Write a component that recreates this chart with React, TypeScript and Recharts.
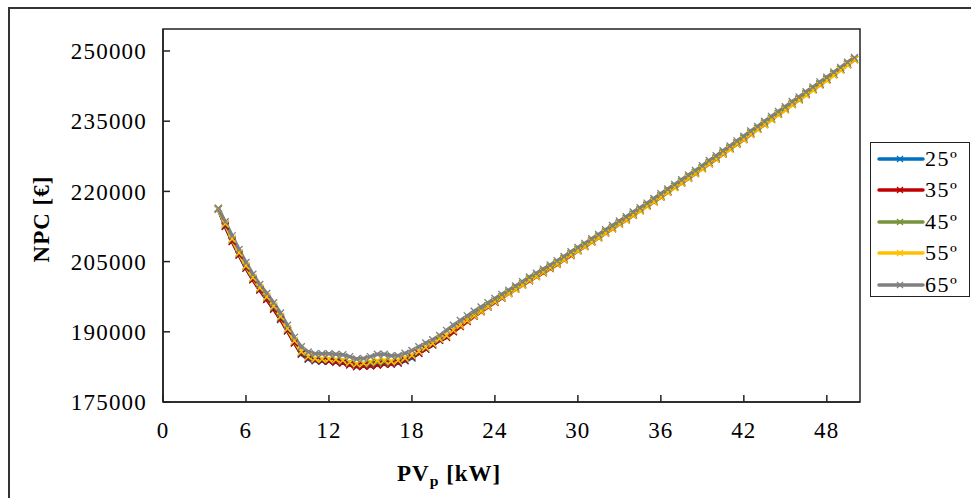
import { LineChart, Line, XAxis, YAxis, ReferenceArea } from 'recharts';

// PV peak power [kW], step 0.5
const pvPower = [
  4, 4.5, 5, 5.5, 6, 6.5, 7, 7.5, 8, 8.5, 9, 9.5, 10, 10.5, 11, 11.5, 12, 12.5, 13, 13.5,
  14, 14.5, 15, 15.5, 16, 16.5, 17, 17.5, 18, 18.5, 19, 19.5, 20, 20.5, 21, 21.5, 22, 22.5,
  23, 23.5, 24, 24.5, 25, 25.5, 26, 26.5, 27, 27.5, 28, 28.5, 29, 29.5, 30, 30.5, 31, 31.5,
  32, 32.5, 33, 33.5, 34, 34.5, 35, 35.5, 36, 36.5, 37, 37.5, 38, 38.5, 39, 39.5, 40, 40.5,
  41, 41.5, 42, 42.5, 43, 43.5, 44, 44.5, 45, 45.5, 46, 46.5, 47, 47.5, 48, 48.5, 49, 49.5, 50,
];

// NPC [€] per tilt angle
const npc25 = [
  216200, 212500, 209400, 206400, 203600, 201200, 199000, 197000, 195000, 192800, 190200, 187700,
  185200, 184100, 183800, 183700, 183700, 183600, 183400, 183100, 182600, 182700, 182900, 182900,
  183100, 183100, 183300, 183800, 184400, 185400, 186300, 187200, 188200, 188900, 190100, 191300,
  192400, 193500, 194500, 195500, 196400, 197400, 198300, 199200, 200100, 201100, 201900, 202800,
  203700, 204600, 205500, 206500, 207400, 208300, 209300, 210200, 211200, 212100, 213100, 214100,
  215000, 216000, 217000, 217900, 218900, 220000, 221000, 221900, 222900, 224000, 225000, 226000,
  227000, 228100, 229200, 230200, 231200, 232400, 233400, 234400, 235500, 236600, 237600, 238600,
  239700, 240800, 241800, 242900, 243900, 245000, 246100, 247100, 248200,
];
const npc35 = [
  216300, 212600, 209300, 206400, 203600, 201100, 198900, 196900, 194800, 192600, 190200, 187600,
  185300, 184300, 183900, 183800, 183700, 183500, 183300, 182900, 182600, 182700, 182700, 182900,
  183100, 183100, 183400, 183900, 184600, 185400, 186300, 187200, 188200, 188800, 190000, 191100,
  192200, 193300, 194300, 195300, 196300, 197200, 198200, 199100, 200000, 200900, 201800, 202600,
  203500, 204400, 205400, 206300, 207300, 208200, 209200, 210100, 211100, 212000, 213000, 213900,
  214900, 215900, 216900, 217800, 218800, 219800, 220900, 221800, 222800, 223800, 224900, 225900,
  226900, 228000, 229100, 230100, 231100, 232200, 233300, 234300, 235400, 236500, 237500, 238600,
  239600, 240700, 241800, 242800, 243900, 245000, 246000, 247100, 248200,
];
const npc45 = [
  216300, 213000, 209700, 206800, 204000, 201500, 199300, 197300, 195300, 193100, 190600, 188000,
  185600, 184600, 184200, 184100, 184100, 184000, 183900, 183500, 183100, 183200, 183400, 183500,
  183600, 183600, 183800, 184300, 184900, 185800, 186600, 187500, 188400, 189100, 190300, 191400,
  192500, 193600, 194600, 195600, 196600, 197500, 198500, 199400, 200300, 201300, 202100, 203000,
  203900, 204800, 205700, 206700, 207600, 208500, 209500, 210400, 211400, 212300, 213300, 214200,
  215200, 216100, 217100, 218100, 219100, 220100, 221100, 222100, 223100, 224100, 225100, 226200,
  227200, 228300, 229300, 230400, 231400, 232500, 233500, 234600, 235600, 236700, 237700, 238800,
  239800, 240900, 241900, 243000, 244000, 245100, 246100, 247200, 248300,
];
const npc55 = [
  216300, 213100, 209900, 206900, 204100, 201600, 199400, 197500, 195500, 193300, 190700, 188100,
  185800, 184700, 184300, 184200, 184200, 184100, 183900, 183500, 183200, 183300, 183600, 183800,
  183900, 183700, 183900, 184400, 185000, 185800, 186700, 187500, 188500, 189200, 190300, 191400,
  192400, 193400, 194400, 195400, 196400, 197300, 198200, 199100, 200000, 201000, 201800, 202700,
  203600, 204500, 205400, 206400, 207300, 208200, 209200, 210100, 211100, 212000, 213000, 213900,
  214900, 215800, 216800, 217800, 218800, 219800, 220800, 221800, 222800, 223800, 224800, 225900,
  226900, 228000, 229000, 230100, 231100, 232200, 233200, 234300, 235300, 236400, 237400, 238500,
  239500, 240600, 241600, 242700, 243700, 244800, 245900, 247000, 248100,
];
const npc65 = [
  216400, 213500, 210500, 207600, 204800, 202300, 200100, 198200, 196200, 194000, 191400, 188800,
  186800, 185700, 185300, 185300, 185300, 185200, 185100, 184700, 184200, 184300, 184700, 185200,
  185200, 184900, 184900, 185400, 186000, 186800, 187600, 188300, 189200, 190300, 191400, 192400,
  193400, 194400, 195300, 196200, 197100, 198000, 198900, 199800, 200700, 201700, 202500, 203400,
  204300, 205200, 206100, 207100, 208000, 208900, 209900, 210800, 211800, 212700, 213700, 214600,
  215600, 216500, 217500, 218500, 219500, 220500, 221500, 222500, 223500, 224500, 225500, 226600,
  227600, 228700, 229700, 230800, 231800, 232900, 233900, 235000, 236000, 237100, 238100, 239200,
  240200, 241300, 242300, 243400, 244400, 245500, 246500, 247600, 248600,
];

const xTicks = [0, 6, 12, 18, 24, 30, 36, 42, 48];
const yTicks = [175000, 190000, 205000, 220000, 235000, 250000];

const seriesKeys = ['s25', 's35', 's45', 's55', 's65'];
const seriesNames = ['25º', '35º', '45º', '55º', '65º'];
const seriesColors = ['#0070C0', '#C00000', '#77933C', '#FFC000', '#808080'];

const data = pvPower.map((x, i) => ({
  x,
  s25: npc25[i],
  s35: npc35[i],
  s45: npc45[i],
  s55: npc55[i],
  s65: npc65[i],
}));

const FONT = '"Liberation Serif", "Times New Roman", serif';

const crossDot = (color: string) => (props: any) => {
  const { cx, cy, index } = props;
  if (cx == null || cy == null) return <g key={`d-${index}`} />;
  const r = 3.5;
  return (
    <path
      key={`d-${index}`}
      d={`M${cx - r},${cy - r}L${cx + r},${cy + r}M${cx - r},${cy + r}L${cx + r},${cy - r}`}
      stroke={color}
      strokeWidth={1.3}
      fill="none"
    />
  );
};

function LegendBox() {
  return (
    <div
      style={{
        position: 'absolute',
        left: 870,
        top: 142,
        width: 100,
        height: 155,
        boxSizing: 'border-box',
        border: '1.5px solid #222',
        background: '#fff',
      }}
    >
      {seriesNames.map((name, i) => (
        <div key={name} style={{ display: 'flex', alignItems: 'center', height: 31.5 }}>
          <svg width={48} height={12} style={{ marginLeft: 6 }}>
            <line x1={2} y1={6} x2={46} y2={6} stroke={seriesColors[i]} strokeWidth={3.5} strokeLinecap="round" />
            <path d="M20,3L26,9M20,9L26,3" stroke={seriesColors[i]} strokeWidth={1.3} />
          </svg>
          <span style={{ fontFamily: FONT, fontSize: 22, letterSpacing: 1.5, color: '#000', lineHeight: 1 }}>
            {name}
          </span>
        </div>
      ))}
    </div>
  );
}

export default function App() {
  return (
    <div
      style={{
        position: 'fixed',
        left: 0,
        top: 0,
        width: 971,
        height: 498,
        overflow: 'hidden',
        background: '#fff',
      }}
    >
      <div
        style={{
          position: 'absolute',
          left: 8,
          top: 7,
          width: 1000,
          height: 600,
          border: '2px solid #333',
          boxSizing: 'border-box',
        }}
      />
      <div style={{ position: 'absolute', left: 0, top: 0 }}>
        <LineChart width={971} height={498} data={data} margin={{ top: 29, right: 111, bottom: 0, left: 13 }}>
          <XAxis
            type="number"
            dataKey="x"
            domain={[0, 50.4]}
            ticks={xTicks}
            allowDataOverflow
            height={96}
            tickSize={-7}
            tickMargin={27}
            axisLine={{ stroke: '#222', strokeWidth: 1.5 }}
            tickLine={{ stroke: '#222', strokeWidth: 1.5 }}
            tick={{ fill: '#000', fontSize: 23, fontFamily: FONT, letterSpacing: 1.2 }}
          />
          <YAxis
            type="number"
            domain={[175000, 254700]}
            ticks={yTicks}
            allowDataOverflow
            width={150}
            tickSize={-7}
            tickMargin={23}
            axisLine={{ stroke: '#222', strokeWidth: 1.5 }}
            tickLine={{ stroke: '#222', strokeWidth: 1.5 }}
            tick={{ fill: '#000', fontSize: 23, fontFamily: FONT, letterSpacing: 1.2 }}
          />
          <ReferenceArea x1={0} x2={50.4} y1={175000} y2={254700} fill="none" stroke="#222" strokeWidth={1.5} />
          {seriesKeys.map((k, i) => (
            <Line
              key={k}
              type="linear"
              dataKey={k}
              name={seriesNames[i]}
              stroke={seriesColors[i]}
              strokeWidth={3.5}
              dot={crossDot(seriesColors[i])}
              activeDot={false}
              isAnimationActive={false}
            />
          ))}
        </LineChart>
      </div>
      <LegendBox />
      <div
        style={{
          position: 'absolute',
          left: 42,
          top: 219,
          transform: 'translate(-50%, -50%) rotate(-90deg)',
          fontFamily: FONT,
          fontWeight: 'bold',
          fontSize: 23,
          letterSpacing: 1,
          whiteSpace: 'nowrap',
          color: '#000',
        }}
      >
        NPC [€]
      </div>
      <div
        style={{
          position: 'absolute',
          left: 397,
          top: 462,
          fontFamily: FONT,
          fontWeight: 'bold',
          fontSize: 23,
          letterSpacing: 1,
          whiteSpace: 'nowrap',
          color: '#000',
          lineHeight: 1,
        }}
      >
        PV<sub style={{ fontSize: '0.68em', verticalAlign: '-0.3em' }}>p</sub> [kW]
      </div>
    </div>
  );
}
